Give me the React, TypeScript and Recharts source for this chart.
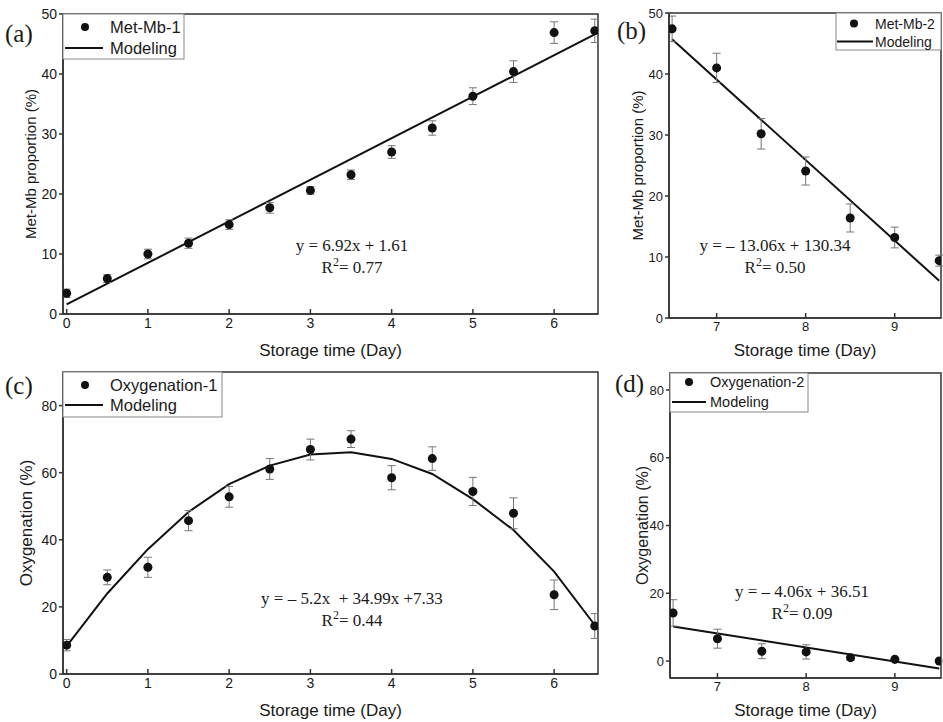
import React from 'react';
import { ComposedChart, Scatter, Line, XAxis, YAxis, ErrorBar, ReferenceArea } from 'recharts';

// storage days
const daysEarly = [0, 0.5, 1, 1.5, 2, 2.5, 3, 3.5, 4, 4.5, 5, 5.5, 6, 6.5];
const daysLate = [6.5, 7, 7.5, 8, 8.5, 9, 9.5];

// (a) Met-Mb-1
const metMb1 = [3.45, 5.9, 10.0, 11.8, 14.9, 17.7, 20.6, 23.2, 27.0, 31.0, 36.3, 40.4, 46.9, 47.2];
const metMb1Err = [0.7, 0.65, 0.8, 0.85, 0.8, 0.9, 0.65, 0.8, 1.05, 1.2, 1.4, 1.8, 1.8, 1.95];
const fitADays = [0, 6.5];
const fitA = [1.6, 46.6];

// (b) Met-Mb-2
const metMb2 = [47.4, 41.0, 30.2, 24.1, 16.4, 13.2, 9.4];
const metMb2Err = [2.1, 2.4, 2.5, 2.3, 2.3, 1.7, 0.9];
const fitBDays = [6.5, 9.5];
const fitB = [45.7, 6.1];

// (c) Oxygenation-1
const oxy1 = [8.6, 28.8, 31.8, 45.7, 52.8, 61.1, 66.9, 70.0, 58.5, 64.2, 54.4, 47.9, 23.6, 14.3];
const oxy1Err = [1.7, 2.2, 3.0, 3.0, 3.1, 3.1, 3.1, 2.5, 3.6, 3.5, 4.2, 4.6, 4.4, 3.7];
const fitC = [8.3, 24.0, 37.2, 48.3, 56.6, 62.1, 65.4, 66.1, 64.1, 59.6, 52.1, 42.9, 30.5, 14.6];

// (d) Oxygenation-2
const oxy2 = [14.2, 6.6, 2.9, 2.7, 1.0, 0.5, 0.0];
const oxy2Err = [3.9, 2.8, 2.2, 2.1, 0.8, 0.3, 0.3];
const fitDDays = [6.5, 9.5];
const fitD = [10.2, -2.2];

// tick labels
const ticksXEarly = [0, 1, 2, 3, 4, 5, 6];
const ticksXLate = [7, 8, 9];
const ticksMetMb = [0, 10, 20, 30, 40, 50];
const ticksOxy = [0, 20, 40, 60, 80];

const SANS = '"Liberation Sans", Arial, sans-serif';
const SERIF = '"Liberation Serif", "Times New Roman", serif';
const INK = '#1a1a1a';

const toRows = (xs: number[], ys: number[], es?: number[]) =>
  xs.map((x, i) => ({ x, y: ys[i], err: es ? es[i] : 0 }));

interface PanelProps {
  left: number;
  top: number;
  width: number;
  height: number;
  margin: { top: number; right: number; left: number; bottom: number };
  yAxisWidth: number;
  xAxisHeight: number;
  xDomain: [number, number];
  yDomain: [number, number];
  xTicks: number[];
  yTicks: number[];
  yLabel: string;
  yLabelOffset: number;
  yLabelSize: number;
  xLabelOffset: number;
  tickSize: number;
  points: { x: number; y: number; err: number }[];
  fit: { x: number; y: number }[];
}

const Panel: React.FC<PanelProps> = (p) => (
  <div style={{ position: 'absolute', left: p.left, top: p.top }}>
    <ComposedChart width={p.width} height={p.height} margin={p.margin}>
      <XAxis
        type="number"
        dataKey="x"
        domain={p.xDomain}
        ticks={p.xTicks}
        allowDataOverflow
        height={p.xAxisHeight}
        stroke="#333"
        strokeWidth={1.5}
        tickSize={-5}
        tickMargin={9}
        tick={{ fill: INK, fontSize: p.tickSize, fontFamily: SANS }}
        label={{
          value: 'Storage time (Day)',
          position: 'insideBottom',
          offset: p.xLabelOffset,
          style: { fill: INK, fontSize: 17, fontFamily: SANS },
        }}
      />
      <YAxis
        type="number"
        dataKey="y"
        domain={p.yDomain}
        ticks={p.yTicks}
        allowDataOverflow
        width={p.yAxisWidth}
        stroke="#333"
        strokeWidth={1.5}
        tickSize={4}
        tickMargin={2}
        tick={{ fill: INK, fontSize: p.tickSize, fontFamily: SANS }}
        label={{
          value: p.yLabel,
          angle: -90,
          position: 'insideLeft',
          offset: p.yLabelOffset,
          style: { fill: INK, fontSize: p.yLabelSize, fontFamily: SANS, textAnchor: 'middle' },
        }}
      />
      <ReferenceArea
        x1={p.xDomain[0]}
        x2={p.xDomain[1]}
        y1={p.yDomain[0]}
        y2={p.yDomain[1]}
        fill="none"
        stroke="#333"
        strokeWidth={1.5}
      />
      <Line
        data={p.fit}
        dataKey="y"
        type="linear"
        stroke="#111"
        strokeWidth={2}
        dot={false}
        isAnimationActive={false}
      />
      <Scatter data={p.points} dataKey="y" fill="#111" isAnimationActive={false}>
        <ErrorBar dataKey="err" direction="y" width={4} stroke="#777" strokeWidth={1} />
      </Scatter>
    </ComposedChart>
  </div>
);

// legend box drawn on top of a panel's top corner
const LegendBox: React.FC<{
  x: number; y: number; w: number; h: number;
  dotX: number; lineX1: number; lineX2: number; textX: number;
  row1: number; row2: number; label: string; size: number;
}> = (l) => (
  <g>
    <rect x={l.x} y={l.y} width={l.w} height={l.h} fill="#fff" stroke="#888" strokeWidth={1} />
    <circle cx={l.dotX} cy={l.row1} r={4} fill="#111" />
    <line x1={l.lineX1} x2={l.lineX2} y1={l.row2} y2={l.row2} stroke="#111" strokeWidth={2} />
    <text x={l.textX} y={l.row1} dominantBaseline="central" fontFamily={SANS} fontSize={l.size} fill={INK}>
      {l.label}
    </text>
    <text x={l.textX} y={l.row2} dominantBaseline="central" fontFamily={SANS} fontSize={l.size} fill={INK}>
      Modeling
    </text>
  </g>
);

const Equation: React.FC<{ x: number; y1: number; y2: number; eq: string; r2: string }> = (e) => (
  <g fontFamily={SERIF} fontSize={17} fill={INK} textAnchor="middle">
    <text x={e.x} y={e.y1} dominantBaseline="central">{e.eq}</text>
    <text x={e.x} y={e.y2} dominantBaseline="central">
      R<tspan fontSize={12} dy={-5}>2</tspan>
      <tspan dy={5}>= {e.r2}</tspan>
    </text>
  </g>
);

export default function App() {
  const rowsA = toRows(daysEarly, metMb1, metMb1Err);
  const rowsB = toRows(daysLate, metMb2, metMb2Err);
  const rowsC = toRows(daysEarly, oxy1, oxy1Err);
  const rowsD = toRows(daysLate, oxy2, oxy2Err);

  return (
    <div style={{ position: 'absolute', left: 0, top: 0, width: 943, height: 722, background: '#fff', overflow: 'hidden' }}>
      <Panel
        left={0} top={0} width={605} height={366}
        margin={{ top: 14, right: 7, left: 0, bottom: 0 }}
        yAxisWidth={63} xAxisHeight={52}
        xDomain={[-0.045, 6.54]} yDomain={[0, 50]}
        xTicks={ticksXEarly} yTicks={ticksMetMb}
        yLabel="Met-Mb proportion (%)" yLabelOffset={31} yLabelSize={15}
        xLabelOffset={10} tickSize={14}
        points={rowsA} fit={toRows(fitADays, fitA)}
      />
      <Panel
        left={605} top={0} width={338} height={366}
        margin={{ top: 13, right: 2, left: 0, bottom: 0 }}
        yAxisWidth={64} xAxisHeight={48}
        xDomain={[6.465, 9.52]} yDomain={[0, 50]}
        xTicks={ticksXLate} yTicks={ticksMetMb}
        yLabel="Met-Mb proportion (%)" yLabelOffset={33} yLabelSize={15}
        xLabelOffset={10} tickSize={13}
        points={rowsB} fit={toRows(fitBDays, fitB)}
      />
      <Panel
        left={0} top={360} width={605} height={362}
        margin={{ top: 12, right: 7, left: 0, bottom: 0 }}
        yAxisWidth={63} xAxisHeight={48}
        xDomain={[-0.045, 6.54]} yDomain={[0, 90]}
        xTicks={ticksXEarly} yTicks={ticksOxy}
        yLabel="Oxygenation (%)" yLabelOffset={26} yLabelSize={17}
        xLabelOffset={6} tickSize={14}
        points={rowsC} fit={toRows(daysEarly, fitC)}
      />
      <Panel
        left={605} top={360} width={338} height={362}
        margin={{ top: 13, right: 2, left: 0, bottom: 0 }}
        yAxisWidth={65} xAxisHeight={44}
        xDomain={[6.465, 9.52]} yDomain={[-5, 85]}
        xTicks={ticksXLate} yTicks={ticksOxy}
        yLabel="Oxygenation (%)" yLabelOffset={37} yLabelSize={16}
        xLabelOffset={6} tickSize={13}
        points={rowsD} fit={toRows(fitDDays, fitD)}
      />

      <svg width={943} height={722} style={{ position: 'absolute', left: 0, top: 0, pointerEvents: 'none' }}>
        <g fontFamily={SERIF} fontSize={25} fill={INK}>
          <text x={5} y={33} dominantBaseline="central">(a)</text>
          <text x={617} y={30} dominantBaseline="central">(b)</text>
          <text x={5} y={385} dominantBaseline="central">(c)</text>
          <text x={615} y={383} dominantBaseline="central">(d)</text>
        </g>

        <LegendBox x={63} y={14} w={121} h={45} dotX={85} lineX1={65} lineX2={103} textX={110}
          row1={27} row2={48} label="Met-Mb-1" size={16.5} />
        <LegendBox x={836} y={13} w={105} h={37} dotX={854} lineX1={837} lineX2={873} textX={875}
          row1={23.5} row2={41.5} label="Met-Mb-2" size={14} />
        <LegendBox x={63} y={372} w={159} h={45} dotX={85} lineX1={65} lineX2={103} textX={110}
          row1={385} row2={405} label="Oxygenation-1" size={16.5} />
        <LegendBox x={670} y={373} w={138} h={39} dotX={689} lineX1={672} lineX2={706} textX={710}
          row1={382} row2={402} label="Oxygenation-2" size={14.5} />

        <Equation x={352} y1={245} y2={267} eq="y = 6.92x + 1.61" r2="0.77" />
        <Equation x={775} y1={245} y2={267} eq="y = – 13.06x + 130.34" r2="0.50" />
        <Equation x={352} y1={598} y2={620} eq={'y = – 5.2x \u00a0+ 34.99x +7.33'} r2="0.44" />
        <Equation x={802} y1={591} y2={613} eq="y = – 4.06x + 36.51" r2="0.09" />
      </svg>
    </div>
  );
}
